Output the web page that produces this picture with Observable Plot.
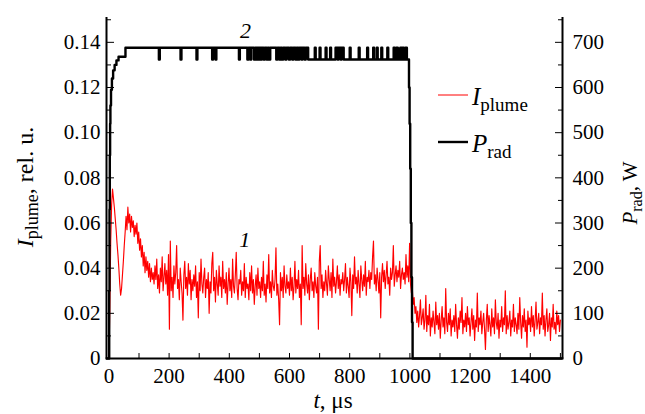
<!DOCTYPE html>
<html><head><meta charset="utf-8">
<script src="https://cdn.jsdelivr.net/npm/d3@7"></script>
<script src="https://cdn.jsdelivr.net/npm/@observablehq/plot@0.6"></script>
<style>
html,body{margin:0;padding:0;background:#fff;}
svg{font-family:"Liberation Serif","Times New Roman",serif;}
</style></head><body><div id="chart"></div>
<script>
// Sampling step of the plume-intensity record, µs
const tStepUs = 3;
// I_plume, rel. u., in units of 1e-3 (t = 0, 3, 6 ... 1500 µs)
const iPlumeMilli = [
  0,22,52,68,75,71,67,62,57,51,46,40,33,28,31,37,43,50,56,63,57,67,60,64,56,
  63,58,61,54,59,55,60,51,56,48,53,45,50,41,47,38,45,39,43,36,42,34,40,35,
  38,33,41,35,44,31,37,29,40,34,45,30,36,42,33,
  39,28,46,13,52,30,36,27,41,33,38,50,31,35,26,
  40,34,29,17,37,43,31,36,28,42,33,39,26,35,30,
  37,32,41,27,34,18,38,30,44,33,29,36,40,27,35,
  31,38,20,34,29,42,47,30,36,25,39,33,28,41,32,
  36,27,43,31,35,29,38,24,33,40,30,35,27,44,32,
  29,37,47,31,26,35,33,39,28,34,30,42,27,36,31,
  33,26,38,30,41,29,35,24,32,37,28,40,31,34,27,
  36,30,43,28,33,25,37,31,46,29,34,27,39,32,30,
  35,49,28,33,26,15,38,30,36,27,41,32,29,37,31,
  34,28,40,30,36,26,32,43,29,35,31,39,27,33,15,
  50,31,36,28,42,33,29,37,26,35,40,30,34,27,38,
  32,29,36,13,43,50,31,37,27,34,30,39,33,28,41,
  35,30,38,27,44,32,36,29,34,41,31,37,28,35,33,
  38,30,35,42,29,36,32,27,40,34,19,37,31,45,33,
  36,29,39,33,27,41,35,30,37,32,43,28,36,34,39,
  31,38,35,45,52,33,37,30,40,35,29,38,18,36,42,
  34,39,31,37,43,33,36,28,40,35,38,50,32,37,41,
  34,39,36,43,31,37,40,35,38,33,46,36,41,34,51,
  33,29,31,24,27,20,23,16,21,14,19,26,15,18,
  22,13,17,28,12,19,15,24,10,18,14,21,16,11,25,15,19,
  13,20,9,17,23,14,18,11,31,16,12,20,15,22,10,17,14,
  19,12,24,15,9,18,13,21,16,27,11,17,14,20,12,23,15,
  18,10,16,22,13,19,8,17,14,29,12,18,15,21,11,16,20,
  13,4,17,24,12,19,15,10,22,14,18,11,26,16,13,20,9,
  17,14,23,12,18,15,30,11,19,13,16,21,10,17,14,24,12,
  18,15,11,20,13,27,16,9,19,14,22,12,17,5,21,15,18,
  12,23,14,19,10,17,25,13,16,20,11,18,15,29,13,19,10,
  17,22,12,15,20,8,18,14,24,13,16,11,21,15,19,12,17
];
// P_rad, W: level-change times (µs) and the level held from each time on
const pRadT = [
  -8,0,1,2,3,4,5,7,10,14,19,25,32,55,
  166,169,238,241,291,294,343,346,354,357,432,435,460,464,470,473,482,486,490,493,
  497,500,505,508,514,518,524,528,532,536,556,560,566,570,575,579,586,590,598,602,
  609,613,620,624,629,633,640,643,650,654,662,
  684,687,700,703,720,723,735,738,753,
  760,763,770,773,780,
  800,803,830,833,858,861,878,881,890,893,905,908,925,928,946,950,955,960,968,972,975,980,985,990,
  997,999,1001,1003,1005,1007,1009,1507
];
const pRadW = [
  0,0,150,330,450,520,560,595,620,638,650,660,668,688,
  662,688,662,688,662,688,662,688,662,688,662,688,662,688,662,688,662,688,662,688,
  662,688,662,688,662,688,662,688,662,688,662,688,662,688,662,688,662,688,662,688,
  662,688,662,688,662,688,662,688,662,688,662,
  688,662,688,662,688,662,688,662,688,
  662,688,662,688,662,
  688,662,688,662,688,662,688,662,688,662,688,662,688,662,688,662,688,662,688,662,688,662,688,662,
  600,520,420,300,180,80,0,0
];
// Axes
const xTicks = [0,200,400,600,800,1000,1200,1400];
const xMinor = [100,300,500,700,900,1100,1300,1500];
const yTicks = [0,0.02,0.04,0.06,0.08,0.10,0.12,0.14];
const yMinor = [0.01,0.03,0.05,0.07,0.09,0.11,0.13,0.15];
const wTicks = [0,100,200,300,400,500,600,700];
const wMinor = [50,150,250,350,450,550,650,750];
const wPerRel = 5000; // right axis (W) = left axis (rel. u.) × 5000
const curveLabels = ["2","1"];
const curveLabelT = [454,451];
const curveLabelI = [0.1452,0.0523];

const plume = iPlumeMilli.map((v,i)=>({t:i*tStepUs, I:v/1000}));
const prad = pRadT.map((t,i)=>({t, W:pRadW[i]}));
const annot = curveLabels.map((s,i)=>({s, t:curveLabelT[i], I:curveLabelI[i]}));
const xDom = [-8,1507], yDom = [0,0.151];

const chart = Plot.plot({
  width:645, height:414,
  marginLeft:106, marginRight:83, marginTop:17, marginBottom:56,
  x:{domain:xDom}, y:{domain:yDom},
  style:{fontFamily:'"Liberation Serif","Times New Roman",serif', fontSize:"21px", color:"#000", background:"#fff", overflow:"visible"},
  marks:[
    Plot.line(plume,{x:"t", y:"I", stroke:"#ff0000", strokeWidth:1.15}),
    Plot.line(prad,{x:"t", y:d=>d.W/wPerRel, stroke:"#000", strokeWidth:2.4, curve:"step-after"}),
    Plot.ruleX([xDom[0], xDom[1]],{y1:yDom[0], y2:yDom[1], stroke:"#000", strokeWidth:2}),
    Plot.ruleY([0],{stroke:"#000", strokeWidth:2}),
    // x ticks (inward) and labels
    Plot.axisX({ticks:xTicks, tickSize:-5, fill:"none", label:null}),
    Plot.axisX({ticks:xMinor, tickSize:-5, fill:"none", label:null}),
    Plot.axisX({ticks:xTicks, tickSize:0, tickPadding:10, label:null, tickFormat:d=>String(d)}),
    // left y
    Plot.axisY({ticks:yTicks, tickSize:-8, fill:"none", label:null}),
    Plot.axisY({ticks:yMinor, tickSize:-5, fill:"none", label:null}),
    Plot.axisY({ticks:yTicks, tickSize:0, tickPadding:6, label:null, tickFormat:d=>d===0?"0":d.toFixed(2)}),
    // right y (W)
    Plot.axisY({anchor:"right", ticks:wTicks.map(w=>w/wPerRel), tickSize:-8, fill:"none", label:null}),
    Plot.axisY({anchor:"right", ticks:wMinor.map(w=>w/wPerRel), tickSize:-5, fill:"none", label:null}),
    Plot.axisY({anchor:"right", ticks:wTicks.map(w=>w/wPerRel), tickSize:0, tickPadding:10, label:null, tickFormat:d=>String(Math.round(d*wPerRel))}),
    Plot.text(annot,{x:"t", y:"I", text:"s", fontStyle:"italic", fontSize:22})
  ]
});
document.getElementById("chart").appendChild(chart);

const svg = d3.select(chart);
function rich(x, y, rot, size, parts, anchor){
  const t = svg.append("text")
    .attr("transform", `translate(${x},${y})` + (rot ? ` rotate(${rot})` : ""))
    .attr("text-anchor", anchor || "middle")
    .attr("font-size", size).attr("fill", "#000");
  parts.forEach(p=>{
    const ts = t.append("tspan").text(p.text);
    if (p.italic) ts.attr("font-style","italic");
    if (p.size) ts.attr("font-size", p.size);
    if (p.dy) ts.attr("dy", p.dy);
  });
  return t;
}
// axis titles
rich(33, 187, -90, 24, [{text:"I", italic:true},{text:"plume", size:18, dy:5},{text:", rel. u.", dy:-5}]);
rich(637, 193, -90, 21, [{text:"P", italic:true},{text:"rad", size:16, dy:5},{text:", W", dy:-5}]);
rich(333, 408, 0, 23, [{text:"t", italic:true},{text:", μs"}]);
// legend
svg.append("line").attr("x1",438).attr("x2",468).attr("y1",95).attr("y2",95).attr("stroke","#ff0000").attr("stroke-width",1);
svg.append("line").attr("x1",438).attr("x2",468).attr("y1",142).attr("y2",142).attr("stroke","#000").attr("stroke-width",2.4);
rich(472, 105, 0, 25, [{text:"I", italic:true},{text:"plume", size:19, dy:6}], "start");
rich(472, 152, 0, 25, [{text:"P", italic:true},{text:"rad", size:19, dy:6}], "start");
</script></body></html>
